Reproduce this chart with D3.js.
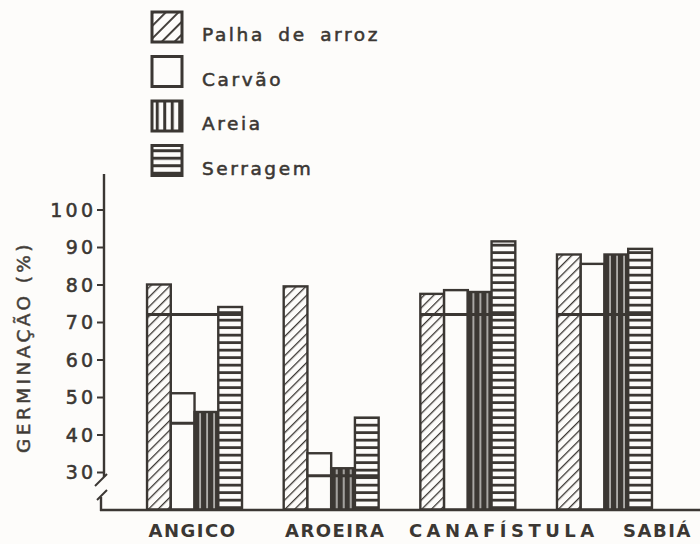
<!DOCTYPE html>
<html>
<head>
<meta charset="utf-8">
<title>Germinação por substrato</title>
<script src="https://cdn.jsdelivr.net/npm/d3@7"></script>
<style>
  body { margin: 0; background: #fdfcfa; }
  svg text { font-family: 'DejaVu Sans', sans-serif; fill: #3b3733; }
  .medium { stroke: #3b3733; stroke-width: 0.55px; }
</style>
</head>
<body>
<svg id="chart" width="700" height="544"></svg>
<script>
// species (x groups) and substrates (bars in each group)
var categories = ['ANGICO', 'AROEIRA', 'CANAFÍSTULA', 'SABIÁ'];
var substrates = ['Palha de arroz', 'Carvão', 'Areia', 'Serragem'];

// germination (%)
var palha    = [80, 79.5, 77.5, 88];
var carvao   = [51, 35, 78.5, 85.5];
var areia    = [46, 31, 78, 88];
var serragem = [74, 44.5, 91.5, 89.5];

var yTicks = [30, 40, 50, 60, 70, 80, 90, 100];
var yBase = 20;   // value at the (broken) baseline

// horizontal marks drawn across bars: group, first bar, last bar, value
var refGroup = ['ANGICO', 'ANGICO', 'AROEIRA', 'CANAFÍSTULA', 'SABIÁ'];
var refFrom  = [0, 1, 1, 0, 0];
var refTo    = [3, 1, 3, 3, 3];
var refValue = [72, 43, 29, 72, 72];

var series = [palha, carvao, areia, serragem];
var ink = '#3b3733';

var svg = d3.select('#chart');
svg.append('rect').attr('width', 700).attr('height', 544).attr('fill', '#fdfcfa');

var defs = svg.append('defs');

function hatch(id, size, w) {
  var p = defs.append('pattern').attr('id', id)
    .attr('patternUnits', 'userSpaceOnUse')
    .attr('width', size).attr('height', size)
    .attr('patternTransform', 'rotate(45)');
  p.append('rect').attr('width', size).attr('height', size).attr('fill', '#fdfcfa');
  p.append('line').attr('x1', 0).attr('y1', 0).attr('x2', 0).attr('y2', size)
    .attr('stroke', ink).attr('stroke-width', w);
}
function stripes(id, size, w, vertical, bg, fg) {
  var p = defs.append('pattern').attr('id', id)
    .attr('patternUnits', 'userSpaceOnUse')
    .attr('width', size).attr('height', size);
  p.append('rect').attr('width', size).attr('height', size).attr('fill', bg);
  if (vertical) {
    p.append('rect').attr('x', size / 2).attr('y', 0).attr('width', w).attr('height', size).attr('fill', fg);
  } else {
    p.append('rect').attr('x', 0).attr('y', size / 2).attr('width', size).attr('height', w).attr('fill', fg);
  }
}
hatch('hatchBar', 6.8, 2.6);
hatch('hatchLeg', 9, 3.8);
stripes('vBar', 7, 1.1, true, ink, '#fdfcfa');
stripes('vLeg', 7.5, 3, true, '#fdfcfa', ink);
stripes('hBar', 7.5, 2.8, false, '#fdfcfa', ink);
stripes('hLeg', 7.5, 3, false, '#fdfcfa', ink);

var barFill = ['url(#hatchBar)', '#fdfcfa', 'url(#vBar)', 'url(#hBar)'];
var legFill = ['url(#hatchLeg)', '#fdfcfa', 'url(#vLeg)', 'url(#hLeg)'];

var x0 = d3.scaleBand().domain(categories).range([104, 695])
  .paddingInner(0.305).paddingOuter(0.315);
var x1 = d3.scaleBand().domain(substrates).range([0, x0.bandwidth()]);
var y = d3.scaleLinear().domain([yBase, 100]).range([509.5, 209.5]);

// bars
var groups = svg.append('g').selectAll('g')
  .data(categories)
  .join('g')
  .attr('transform', function(d) { return 'translate(' + x0(d) + ',0)'; });

groups.selectAll('rect')
  .data(function(c, ci) {
    return substrates.map(function(s, si) { return { s: s, si: si, v: series[si][ci] }; });
  })
  .join('rect')
  .attr('x', function(d) { return x1(d.s); })
  .attr('y', function(d) { return y(d.v); })
  .attr('width', x1.bandwidth())
  .attr('height', function(d) { return y(yBase) - y(d.v); })
  .attr('fill', function(d) { return barFill[d.si]; })
  .attr('stroke', ink)
  .attr('stroke-width', 2.4);

// horizontal marks across bars
svg.append('g').selectAll('line')
  .data(refValue)
  .join('line')
  .attr('x1', function(d, i) { return x0(refGroup[i]) + x1(substrates[refFrom[i]]); })
  .attr('x2', function(d, i) { return x0(refGroup[i]) + x1(substrates[refTo[i]]) + x1.bandwidth(); })
  .attr('y1', function(d) { return y(d); })
  .attr('y2', function(d) { return y(d); })
  .attr('stroke', ink)
  .attr('stroke-width', 3);

// y axis with break
var yAxis = svg.append('g')
  .attr('transform', 'translate(104,0)')
  .call(d3.axisLeft(y).tickValues(yTicks).tickSize(7).tickPadding(4).tickFormat(d3.format('d')));
yAxis.select('.domain').remove();
yAxis.selectAll('line').attr('stroke', ink).attr('stroke-width', 2);
yAxis.selectAll('text')
  .attr('class', 'medium')
  .attr('font-size', 19)
  .attr('letter-spacing', 3.2)
  .attr('dx', 3.2)
  .attr('dy', '0.36em')
  .attr('fill', '#45413c');

svg.append('line').attr('x1', 104).attr('y1', 174).attr('x2', 104).attr('y2', 477)
  .attr('stroke', ink).attr('stroke-width', 2.4);
svg.append('line').attr('x1', 107).attr('y1', 474).attr('x2', 95).attr('y2', 486)
  .attr('stroke', ink).attr('stroke-width', 2);
svg.append('line').attr('x1', 107).attr('y1', 490).attr('x2', 97).attr('y2', 500)
  .attr('stroke', ink).attr('stroke-width', 2);
svg.append('line').attr('x1', 101).attr('y1', 497).attr('x2', 101).attr('y2', 511)
  .attr('stroke', ink).attr('stroke-width', 2.4);

// x axis
svg.append('line').attr('x1', 100).attr('y1', 510).attr('x2', 700).attr('y2', 510)
  .attr('stroke', ink).attr('stroke-width', 2.6);

var labelDx = [-2, 4, 36, 53];
var labelSpacing = [1.5, 1.5, 4.5, 1.5];
svg.append('g').selectAll('text')
  .data(categories)
  .join('text')
  .attr('x', function(d, i) { return x0(d) + x0.bandwidth() / 2 + labelDx[i]; })
  .attr('y', 537)
  .attr('text-anchor', 'middle')
  .attr('font-size', 18)
  .attr('font-weight', 'bold')
  .attr('letter-spacing', function(d, i) { return labelSpacing[i]; })
  .text(function(d) { return d; });

// y title
svg.append('text')
  .attr('class', 'medium')
  .attr('transform', 'translate(30,347) rotate(-90)')
  .attr('text-anchor', 'middle')
  .attr('font-size', 18.5)
  .attr('letter-spacing', 3.4)
  .attr('fill', '#55504a')
  .style('stroke', '#55504a')
  .text('GERMINAÇÃO (%)');

// legend
var legend = svg.append('g').selectAll('g')
  .data(substrates)
  .join('g')
  .attr('transform', function(d, i) { return 'translate(152,' + (12 + i * 44.5) + ')'; });
legend.append('rect')
  .attr('width', 30).attr('height', 30)
  .attr('fill', function(d, i) { return legFill[i]; })
  .attr('stroke', ink).attr('stroke-width', 3);
legend.append('text')
  .attr('class', 'medium')
  .attr('x', 50).attr('y', 29)
  .attr('font-size', 18.5)
  .attr('letter-spacing', 2.6)
  .attr('word-spacing', 5)
  .text(function(d) { return d; });
</script>
</body>
</html>
